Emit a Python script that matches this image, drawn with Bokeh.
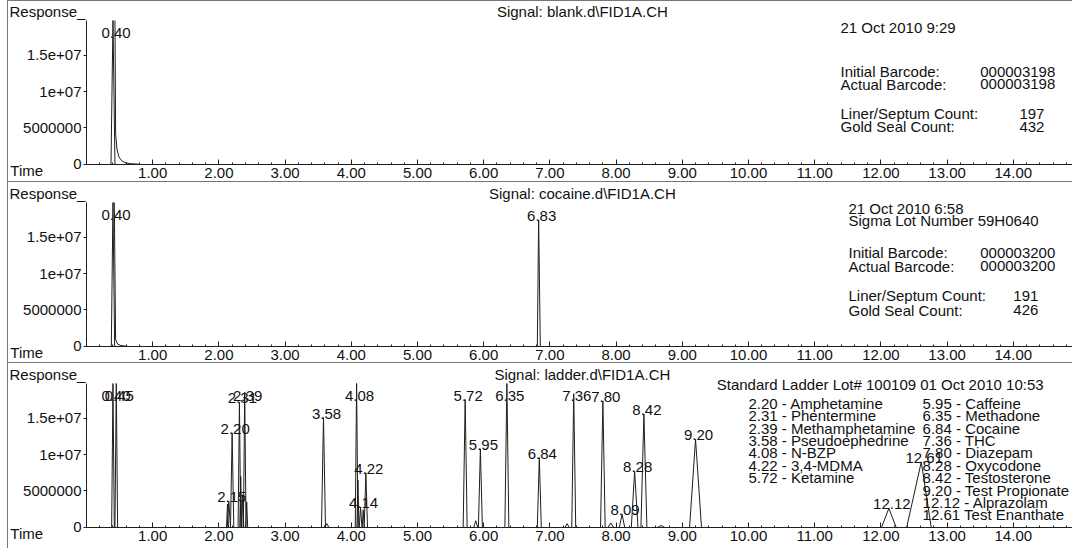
import numpy as np
from bokeh.plotting import figure
from bokeh.models import Range1d, FixedTicker, Label, ColumnDataSource, NumeralTickFormatter
from bokeh.layouts import column
from bokeh.embed import file_html
from bokeh.resources import INLINE
from bokeh.core.properties import value

# ---------------- data ----------------
time_ticks = [1, 2, 3, 4, 5, 6, 7, 8, 9, 10, 11, 12, 13, 14]
resp_ticks = [0, 5000000, 10000000, 15000000]
resp_tick_labels = ["0", "5000000", "1e+07", "1.5e+07"]

# Panel 1 : blank
blank_rt = [0.40]
blank_height = [26000000]
blank_left = [0.03]
blank_right = [0.03]
blank_label = ["0.40"]
blank_tail_time = [0.43, 0.44, 0.46, 0.49, 0.53, 0.58, 0.66, 0.80]
blank_tail_resp = [26000000, 4200000, 2100000, 1000000, 500000, 220000, 80000, 0]

# Panel 2 : cocaine
cocaine_rt = [0.40, 6.83]
cocaine_height = [26000000, 17400000]
cocaine_left = [0.025, 0.02]
cocaine_right = [0.025, 0.025]
cocaine_label = ["0.40", "6.83"]
cocaine_tail_time = [0.42, 0.44, 0.47, 0.52, 0.60]
cocaine_tail_resp = [26000000, 900000, 300000, 100000, 0]

# Panel 3 : ladder (labelled peaks)
ladder_rt = [0.40, 0.45, 2.15, 2.20, 2.31, 2.39, 3.58, 4.08, 4.14, 4.22, 5.72,
             5.95, 6.35, 6.84, 7.36, 7.80, 8.09, 8.28, 8.42, 9.20, 12.12, 12.61]
ladder_height = [26000000, 26000000, 3600000, 13000000, 17200000, 18600000, 15100000,
                 26000000, 2800000, 7500000, 17600000, 10800000, 26000000, 9600000,
                 18400000, 17400000, 1800000, 7700000, 15600000, 12100000, 2600000, 9000000]
ladder_left = [0.02, 0.02, 0.025, 0.025, 0.02, 0.02, 0.03, 0.02, 0.02, 0.025, 0.03,
               0.03, 0.03, 0.03, 0.03, 0.035, 0.04, 0.05, 0.045, 0.09, 0.11, 0.22]
ladder_right = [0.02, 0.02, 0.025, 0.025, 0.02, 0.02, 0.03, 0.02, 0.02, 0.025, 0.03,
                0.03, 0.03, 0.03, 0.03, 0.035, 0.04, 0.05, 0.045, 0.09, 0.11, 0.15]
ladder_label = ["0.40", "0.45", "2.15", "2.20", "2.31", "2.39", "3.58", "4.08", "4.14",
                "4.22", "5.72", "5.95", "6.35", "6.84", "7.36", "7.80", "8.09", "8.28",
                "8.42", "9.20", "12.12", "12.61"]
# Panel 3 : small unlabelled peaks
ladder_minor_rt = [2.13, 2.33, 2.36, 2.42, 3.63, 4.10, 4.18, 5.88, 7.26, 7.92, 8.68]
ladder_minor_height = [3200000, 7000000, 4500000, 3500000, 500000, 6500000, 2400000,
                       900000, 500000, 600000, 250000]
ladder_minor_width = [0.015, 0.015, 0.015, 0.015, 0.03, 0.015, 0.015, 0.03, 0.03, 0.04, 0.05]

signal_names = ["Signal: blank.d\\FID1A.CH", "Signal: cocaine.d\\FID1A.CH",
                "Signal: ladder.d\\FID1A.CH"]

blank_info = ["21 Oct 2010   9:29", "Initial Barcode:", "Actual Barcode:",
              "Liner/Septum Count:", "Gold Seal Count:"]
blank_values = ["000003198", "000003198", "197", "432"]
cocaine_info = ["21 Oct 2010   6:58", "Sigma Lot Number 59H0640", "Initial Barcode:",
                "Actual Barcode:", "Liner/Septum Count:", "Gold Seal Count:"]
cocaine_values = ["000003200", "000003200", "191", "426"]

ladder_header = "Standard Ladder Lot# 100109  01 Oct 2010  10:53"
ladder_key_left = ["2.20 - Amphetamine", "2.31 - Phentermine", "2.39 - Methamphetamine",
                   "3.58 - Pseudoephedrine", "4.08 - N-BZP", "4.22 - 3,4-MDMA",
                   "5.72 - Ketamine"]
ladder_key_right = ["5.95 - Caffeine", "6.35 - Methadone", "6.84 - Cocaine", "7.36 - THC",
                    "7.80 - Diazepam", "8.28 - Oxycodone", "8.42 - Testosterone",
                    "9.20 - Test Propionate", "12.12 - Alprazolam", "12.61   Test Enanthate"]

# ---------------- layout / styling ----------------
FONT = "Liberation Sans"
FS = "15px"
INK = "#111111"
TRACE = "#1e1e1e"
W = 1064
PX_PER_MIN = 66.2
X0_PX = 78                      # canvas pixel of time 0
PX_PER_UNIT = 7.26e-6           # pixels per response unit
Y_TOP = 19800000                # top of the response axis
LABEL_CAP = 17550000
KEY_STEP = 1710000
LABEL_LIFT = 5 / PX_PER_UNIT    # Label baselines render ~5px low; lift them

X_LO = -X0_PX / PX_PER_MIN
X_HI = (W - X0_PX) / PX_PER_MIN


def txt(p, text, x, y, align="left"):
    p.add_layout(Label(x=x, y=y + LABEL_LIFT, text=text, text_font=FONT, text_font_size=FS,
                       text_color=INK, text_align=align, text_baseline="alphabetic"))


def base_fig(signal, height, top_px):
    y_hi = Y_TOP + top_px / PX_PER_UNIT
    y_lo = y_hi - height / PX_PER_UNIT
    p = figure(width=W, height=height, x_range=Range1d(X_LO, X_HI),
               y_range=Range1d(y_lo, y_hi),
               output_backend="svg", toolbar_location=None,
               min_border_left=0, min_border_right=0, min_border_top=0,
               min_border_bottom=0, styles={"border-top": "1px solid #777"})
    p.xgrid.visible = False
    p.ygrid.visible = False
    p.outline_line_color = None
    xa = p.xaxis[0]
    xa.fixed_location = 0
    xa.bounds = (0, X_HI)
    xa.ticker = FixedTicker(ticks=time_ticks,
                            minor_ticks=[i * 0.2 for i in range(0, 75)])
    xa.formatter = NumeralTickFormatter(format="0.00")
    xa.major_tick_in = 5
    xa.major_tick_out = 0
    xa.minor_tick_in = 2
    xa.minor_tick_out = 0
    xa.major_label_standoff = 4
    ya = p.yaxis[0]
    ya.fixed_location = 0
    ya.bounds = (0, Y_TOP)
    ya.ticker = FixedTicker(ticks=resp_ticks)
    ya.major_label_overrides = {t: l for t, l in zip(resp_ticks, resp_tick_labels)}
    ya.major_tick_in = 0
    ya.major_tick_out = 3
    ya.minor_tick_in = 0
    ya.minor_tick_out = 0
    ya.major_label_standoff = 2
    for ax in (xa, ya):
        ax.axis_line_color = TRACE
        ax.major_tick_line_color = TRACE
        ax.minor_tick_line_color = TRACE
        ax.major_label_text_font = FONT
        ax.major_label_text_font_size = FS
        ax.major_label_text_color = INK
    txt(p, "Response_", -1.163, 20350000)
    txt(p, "Time", -1.15, -1600000)
    txt(p, signal, 7.49, 20300000, "center")
    return p


def draw_peaks(p, rt, height, left, right, labels):
    shown = np.minimum(height, Y_TOP)      # detector display is clipped at the axis top
    src = ColumnDataSource(dict(
        xs=[[t - l, t, t + r] for t, l, r in zip(rt, left, right)],
        ys=[[0, h, 0] for h in shown]))
    p.multi_line(xs="xs", ys="ys", source=src, line_color=TRACE, line_width=1)
    lab = ColumnDataSource(dict(x=rt, y=np.minimum(height, LABEL_CAP), t=labels))
    p.text(x="x", y="y", text="t", source=lab, x_offset=3, y_offset=-4,
           text_font=value(FONT), text_font_size=value(FS), text_color=INK,
           text_align="center", text_baseline="alphabetic")


def draw_tail(p, t, r):
    p.line(t, np.minimum(r, Y_TOP), line_color=TRACE, line_width=1)


# ---------- panel 1 ----------
p1 = base_fig(signal_names[0], 181, 19)
draw_peaks(p1, blank_rt, blank_height, blank_left, blank_right, blank_label)
draw_tail(p1, blank_tail_time, blank_tail_resp)
for text, y in zip(blank_info, [18200000, 12050000, 10300000, 6300000, 4450000]):
    txt(p1, text, 11.39, y)
for text, y in zip(blank_values[:2], [12050000, 10300000]):
    txt(p1, text, 13.5, y)
for text, y in zip(blank_values[2:], [6300000, 4450000]):
    txt(p1, text, 14.47, y, "right")

# ---------- panel 2 ----------
p2 = base_fig(signal_names[1], 181, 20)
draw_peaks(p2, cocaine_rt, cocaine_height, cocaine_left, cocaine_right, cocaine_label)
draw_tail(p2, cocaine_tail_time, cocaine_tail_resp)
for text, y in zip(cocaine_info, [18300000, 16700000, 12200000, 10300000, 6250000, 4300000]):
    txt(p2, text, 11.51, y)
for text, y in zip(cocaine_values[:2], [12200000, 10300000]):
    txt(p2, text, 13.5, y)
for text, y in zip(cocaine_values[2:], [6250000, 4300000]):
    txt(p2, text, 14.0, y)

# ---------- panel 3 ----------
p3 = base_fig(signal_names[2], 186, 20)
draw_peaks(p3, ladder_rt, ladder_height, ladder_left, ladder_right, ladder_label)
minor = ColumnDataSource(dict(
    xs=[[t - w, t, t + w] for t, w in zip(ladder_minor_rt, ladder_minor_width)],
    ys=[[0, h, 0] for h in ladder_minor_height]))
p3.multi_line(xs="xs", ys="ys", source=minor, line_color=TRACE, line_width=1)
txt(p3, ladder_header, 9.52, 19000000)
for i, text in enumerate(ladder_key_left):
    txt(p3, text, 10.0, 16400000 - i * KEY_STEP)
for i, text in enumerate(ladder_key_right):
    txt(p3, text, 12.63, 16400000 - i * KEY_STEP)

layout = column(p1, p2, p3, styles={"border-left": "1px solid #777", "margin-left": "7px"})
open("out.html", "w").write(file_html(layout, INLINE, title="Chromatograms"))
